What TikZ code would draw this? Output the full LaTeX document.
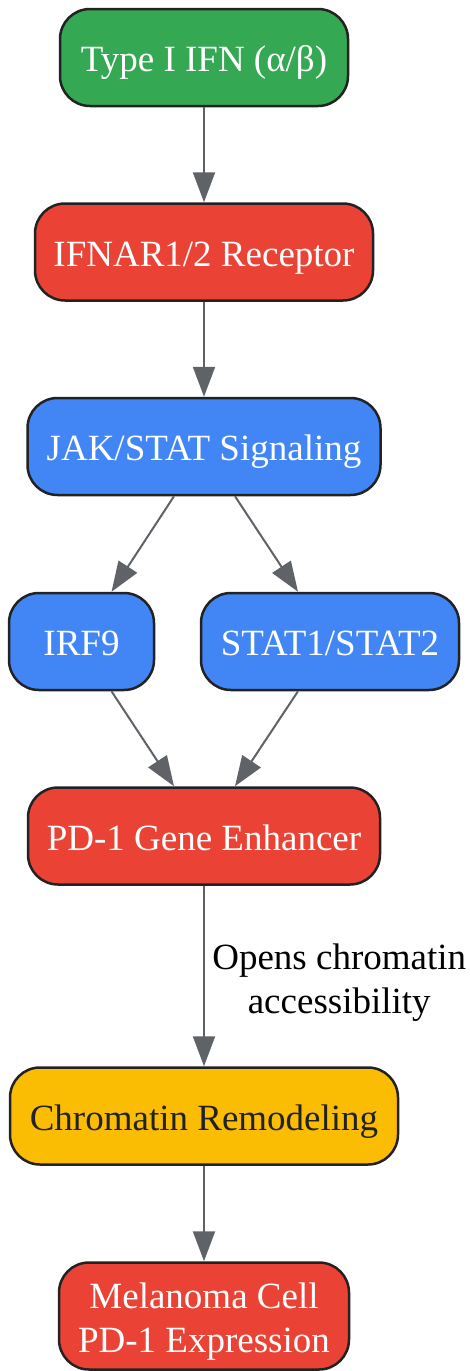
\documentclass[tikz,border=0pt]{standalone}
\usepackage{fontspec}
\setmainfont{Liberation Serif}
\usetikzlibrary{arrows.meta, positioning}

\definecolor{ifngreen}{HTML}{34A853}
\definecolor{sigred}{HTML}{EA4335}
\definecolor{sigblue}{HTML}{4285F4}
\definecolor{remyellow}{HTML}{FBBC04}
\definecolor{edgegrey}{HTML}{5F6368}
\definecolor{boxline}{HTML}{222222}

\tikzset{
  box/.style={draw=boxline, line width=2.5pt, rounded corners=30pt,
    minimum height=97pt, inner sep=0pt, align=center, text=white,
    text height=30pt, text depth=2pt},
  flow/.style={draw=edgegrey, line width=2pt,
    -{Triangle[length=30pt, width=22pt]}}
}

\begin{document}
\begin{tikzpicture}[x=1pt, y=-1pt, font=\fontsize{37}{44}\selectfont]
	
	% 1. Fix the page size
	\useasboundingbox (0,0) rectangle (470,1371);
	
	% 2. Nodes of the cascade
	\node[box, fill=ifngreen, minimum width=288pt] (ifn) at (204,57.5) {Type I IFN (α/β)};
	\node[box, fill=sigred, minimum width=338pt] (ifnar) at (204,252) {IFNAR1/2 Receptor};
	\node[box, fill=sigblue, minimum width=353pt] (jak) at (204,446.5) {JAK/STAT Signaling};
	\node[box, fill=sigblue, minimum width=145pt] (irf) at (81.5,641.5) {IRF9};
	\node[box, fill=sigblue, minimum width=258pt] (stat) at (330,641.5) {STAT1/STAT2};
	\node[box, fill=sigred, minimum width=352pt] (enh) at (204,836) {PD-1 Gene Enhancer};
	\node[box, fill=remyellow, text=boxline, minimum width=388pt] (remod) at (204,1116) {Chromatin Remodeling};
	\node[box, fill=sigred, minimum width=290pt, minimum height=107pt,
	text height=75.5pt] (expr) at (204,1316) {Melanoma Cell\\PD-1 Expression};
	
	% 3. Connectors
	\draw[flow] (ifn) -- (ifnar);
	\draw[flow] (ifnar) -- (jak);
	\draw[flow] ([xshift=-30pt]jak.south) -- ([xshift=30pt]irf.north);
	\draw[flow] ([xshift=31pt]jak.south) -- ([xshift=-32pt]stat.north);
	\draw[flow] ([xshift=30pt]irf.south) -- ([xshift=-30pt]enh.north);
	\draw[flow] ([xshift=-32pt]stat.south) -- ([xshift=31pt]enh.north);
	\draw[flow] (enh) -- (remod)
	node[midway, right=4pt, yshift=-7pt, align=center, text=black] (lbl) {Opens chromatin\\accessibility};
	\draw[flow] (remod) -- (expr);
	
\end{tikzpicture}
\end{document}
